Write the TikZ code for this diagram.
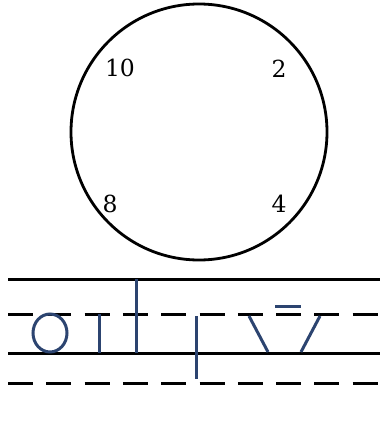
\documentclass[tikz,border=0pt]{standalone}
\usepackage{fontspec}
\newfontfamily\digitfont{DejaVu Serif}
\begin{document}
\begin{tikzpicture}[x=1pt,y=-1pt,
  blk/.style={line width=3pt,black},
  dsh/.style={line width=3pt,black,dash pattern=on 25pt off 13.3pt},
  stroke/.style={line width=3pt,color=navy},
  digit/.style={inner sep=0pt,font=\digitfont\fontsize{23.5}{28}\selectfont}]
\definecolor{navy}{RGB}{44,68,112}
\useasboundingbox (0,0) rectangle (380,423);
\node[circle,draw,line width=2.8pt,minimum size=256pt,inner sep=0pt] (clock) at (199,132) {};
\node[digit] (d10) at (120,68) {10};
\node[digit] (d2) at (279,69) {2};
\node[digit] (d8) at (110,204) {8};
\node[digit] (d4) at (279,204) {4};
% ruled lines
\draw[blk] (8,279) -- (380,279);
\draw[dsh] (8,314) -- (380,314);
\draw[blk] (8,353) -- (380,353);
\draw[dsh] (8,383) -- (380,383);
% strokes
\draw[stroke] (50,333) ellipse [x radius=17pt, y radius=19pt];
\draw[stroke] (99,314) -- (99,353);
\draw[stroke] (136,279) -- (136,353);
\draw[stroke] (196,316) -- (196,379);
\draw[stroke] (249,316) -- (268,352);
\draw[stroke] (320,316) -- (301,352);
\draw[stroke] (275,306) -- (301,306);
\end{tikzpicture}
\end{document}
